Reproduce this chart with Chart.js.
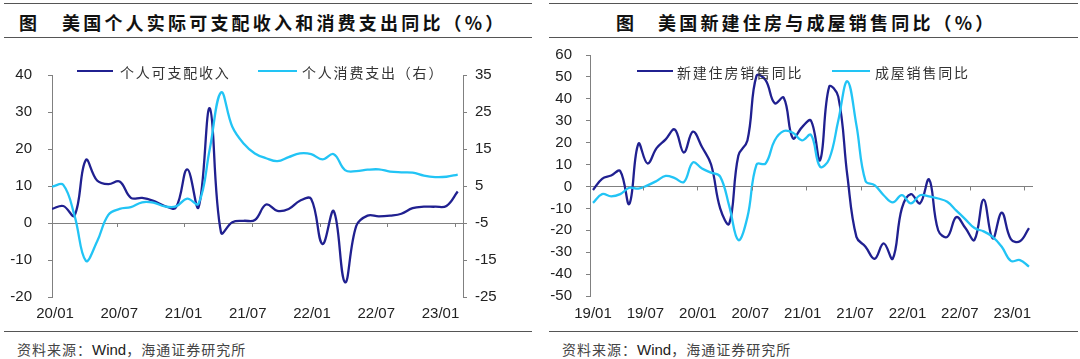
<!DOCTYPE html>
<html>
<head>
<meta charset="utf-8"/>
<title>美国收入消费与住房销售同比</title>
<script src="https://cdn.jsdelivr.net/npm/chart.js"></script>
<style>
body{margin:0;background:#fff;width:1080px;height:359px;position:relative;overflow:hidden;font-family:"Noto Sans CJK SC",sans-serif;}
.rule{position:absolute;height:0;border-top:1.5px solid #555;}
.title{position:absolute;top:10px;font-size:18px;line-height:24px;font-weight:700;letter-spacing:3.2px;color:#111;white-space:nowrap;}
.src{position:absolute;top:341px;font-size:14px;line-height:17px;color:#444;letter-spacing:1px;white-space:nowrap;}
.src b{font-weight:400;font-family:"Liberation Sans",Arial,sans-serif;font-size:15px;letter-spacing:0;color:#222;}
.box{position:absolute;top:40px;width:540px;height:290px;}
.leg{position:absolute;top:63px;font-size:14px;line-height:18px;color:#333;letter-spacing:1.8px;white-space:nowrap;}
.sw{position:absolute;top:70px;height:0;border-top:2.5px solid;}
</style>
</head>
<body>
<div class="rule" style="left:4px;width:528px;top:3px"></div>
<div class="rule" style="left:4px;width:528px;top:37px"></div>
<div class="rule" style="left:4px;width:528px;top:331px"></div>
<div class="rule" style="left:549px;width:529px;top:3px"></div>
<div class="rule" style="left:549px;width:529px;top:37px"></div>
<div class="rule" style="left:549px;width:529px;top:331px"></div>

<div class="title" style="left:19px">图</div>
<div class="title" style="left:62px">美国个人实际可支配收入和消费支出同比（%）</div>
<div class="title" style="left:616px">图</div>
<div class="title" style="left:658px">美国新建住房与成屋销售同比（%）</div>

<div class="box" style="left:0"><canvas id="c1" width="540" height="290"></canvas></div>
<div class="box" style="left:540px"><canvas id="c2" width="540" height="290"></canvas></div>

<div class="sw" style="left:77px;width:36px;border-color:#202090"></div>
<div class="leg" style="left:120px">个人可支配收入</div>
<div class="sw" style="left:258px;width:39px;border-color:#22c4f5"></div>
<div class="leg" style="left:302px">个人消费支出（右）</div>
<div class="sw" style="left:637px;width:36px;border-color:#202090"></div>
<div class="leg" style="left:677px">新建住房销售同比</div>
<div class="sw" style="left:832px;width:38px;border-color:#22c4f5"></div>
<div class="leg" style="left:875px">成屋销售同比</div>

<div class="src" style="left:17px">资料来源：<b>Wind</b>，海通证券研究所</div>
<div class="src" style="left:562px">资料来源：<b>Wind</b>，海通证券研究所</div>

<script>
// 左图：2020/01 - 2023/01 月度同比（%）
let incomeYoY = [3.8,4.6,2.0,17.0,11.5,10.5,11.2,6.8,6.8,6.0,4.6,4.2,14.5,4.2,31.0,-2.6,0.2,0.6,0.8,5.0,
	3.3,3.8,6.0,6.5,-5.7,3.2,-16.0,-0.8,2.0,1.8,2.0,2.5,4.0,4.4,4.4,4.6,8.5];
let spendingYoY = [4.8,5.3,-3.0,-15.2,-10.0,-2.8,-1.2,-0.7,0.6,0.5,-0.5,-0.5,1.6,0.2,15.0,30.3,21.0,16.5,13.8,12.5,
	11.7,12.8,13.8,13.6,12.2,13.6,9.3,9.0,9.4,9.5,8.9,8.7,8.6,7.8,7.4,7.5,8.1];
let leftLabels = ["20/01","20/07","21/01","21/07","22/01","22/07","23/01"];
let leftTicks = [-20,-10,0,10,20,30,40];
let leftTicksR = [-25,-15,-5,5,15,25,35];

// 右图：2019/01 - 2023/01 月度同比（%）
let newHomeYoY = [-1.6,3.5,5.0,7.0,-8.0,19.5,10.5,17.5,21.5,26.0,15.5,25.0,18.0,10.0,-10.0,-17.0,14.0,21.0,50.5,48.5,
	38.0,40.5,22.0,27.0,30.0,12.0,45.5,41.0,5.0,-23.0,-27.5,-33.0,-26.0,-33.0,-10.0,-3.5,-7.7,3.2,-20.0,-23.0,
	-14.0,-19.0,-24.4,-6.0,-23.7,-12.0,-24.0,-25.0,-19.0];
let existingHomeYoY = [-7.5,-3.5,-4.5,-3.5,-0.6,-1.0,0.5,2.5,4.8,3.8,2.0,11.0,8.2,6.3,4.5,-9.0,-24.5,-14.0,10.0,10.5,
	21.0,25.3,24.5,21.0,23.5,9.0,12.5,30.0,48.0,28.0,2.5,0.6,-4.0,-7.3,-4.0,-7.7,-4.0,-4.5,-5.5,-7.0,
	-11.0,-15.0,-19.0,-20.5,-23.0,-27.5,-34.0,-33.6,-36.6];
let rightLabels = ["19/01","19/07","20/01","20/07","21/01","21/07","22/01","22/07","23/01"];
let rightTicks = [-50,-40,-30,-20,-10,0,10,20,30,40,50,60];

const DARK = "#202090", LIGHT = "#22c4f5", AXIS = "#808080";
const tickFont = {family:"'Liberation Sans', Arial, sans-serif", size:15};

function pts(arr){ return arr.map(function(v,i){ return {x:i,y:v}; }); }

// 零轴上的小刻度线
const zeroTicks = {
	id:"zeroTicks",
	afterDraw(chart, args, opts){
		let x = chart.scales.x, y = chart.scales.y, ctx = chart.ctx;
		let y0 = y.getPixelForValue(0);
		ctx.save();
		ctx.strokeStyle = AXIS; ctx.lineWidth = 1;
		opts.at.forEach(function(v){
			let px = Math.round(x.getPixelForValue(v)) + 0.5;
			ctx.beginPath(); ctx.moveTo(px, y0); ctx.lineTo(px, y0 + 4); ctx.stroke();
		});
		ctx.restore();
	}
};

function yAxis(ticks, pos, width, pad, zero){
	return {
		position: pos, min: ticks[0], max: ticks[ticks.length-1],
		afterBuildTicks: function(s){ s.ticks = ticks.map(function(v){ return {value:v}; }); },
		afterFit: function(s){ s.width = width; s.paddingTop = 0; s.paddingBottom = 0; },
		border: {display:true, color:AXIS, width:1},
		grid: {
			drawOnChartArea: zero, drawTicks:true, tickLength:4, tickColor:AXIS,
			color: function(c){ return (zero && c.tick && c.tick.value === 0) ? AXIS : "rgba(0,0,0,0)"; }
		},
		ticks: {font:tickFont, color:"#222", padding:pad, autoSkip:false}
	};
}

function xAxis(labels, min, max, first, step, height, pad){
	return {
		type:"linear", min:min, max:max,
		afterBuildTicks: function(s){ s.ticks = labels.map(function(l,j){ return {value:first + step*j}; }); },
		afterFit: function(s){ s.height = height; },
		border: {display:false},
		grid: {display:false, drawTicks:false},
		ticks: {font:tickFont, color:"#222", padding:pad, autoSkip:false, maxRotation:0,
			callback: function(v, idx){ return labels[idx]; }}
	};
}

function line(data, color, axis){
	return {data: pts(data), borderColor: color, borderWidth: 2.3, pointRadius: 0, tension: 0.4,
		fill: false, yAxisID: axis};
}

new Chart(document.getElementById("c1"), {
	type: "line",
	data: {datasets: [line(spendingYoY, LIGHT, "y1"), line(incomeYoY, DARK, "y")]},
	options: {
		responsive:false, animation:false, devicePixelRatio:1,
		layout: {padding:{top:35, left:0, right:0, bottom:0}},
		plugins: {legend:{display:false}, tooltip:{enabled:false}, zeroTicks:{at:[5.75,11.75,17.75,23.75,29.75,35.75]}},
		scales: {
			x: xAxis(leftLabels, 0, 36.47, 0.27, 5.7, 33, 8),
			y: yAxis(leftTicks, "left", 52, 16, true),
			y1: yAxis(leftTicksR, "right", 77, 8, false)
		}
	},
	plugins: [zeroTicks]
});

new Chart(document.getElementById("c2"), {
	type: "line",
	data: {datasets: [line(existingHomeYoY, LIGHT, "y"), line(newHomeYoY, DARK, "y")]},
	options: {
		responsive:false, animation:false, devicePixelRatio:1,
		layout: {padding:{top:15, left:0, right:47, bottom:0}},
		plugins: {legend:{display:false}, tooltip:{enabled:false}, zeroTicks:{at:[5.5,11.5,17.5,23.5,29.5,35.5,41.5,47.5]}},
		scales: {
			x: xAxis(rightLabels, -0.33, 48.44, 0, 5.77, 34, 9),
			y: yAxis(rightTicks, "left", 50, 14, true)
		}
	},
	plugins: [zeroTicks]
});
</script>
</body>
</html>
